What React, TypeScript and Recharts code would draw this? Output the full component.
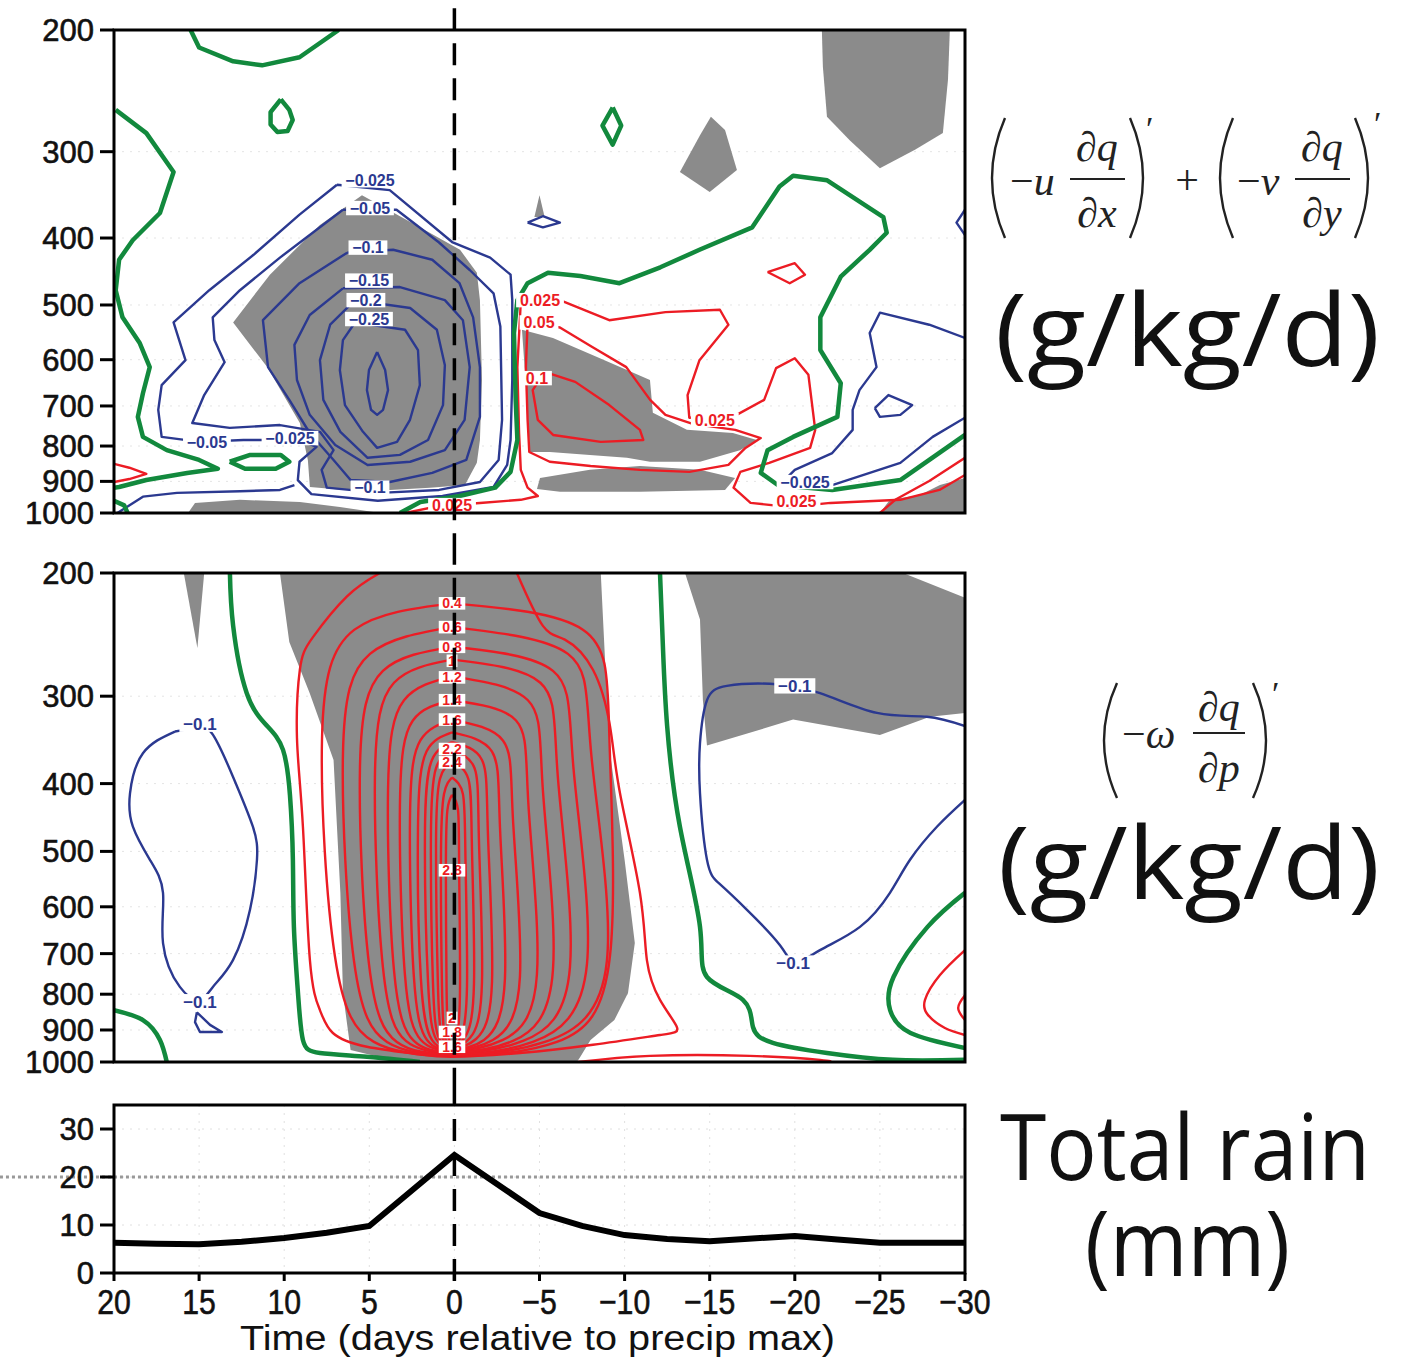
import React from 'react';
import {
  ComposedChart,
  Scatter,
  Line,
  XAxis,
  YAxis,
  CartesianGrid,
  ReferenceArea,
  ReferenceLine,
} from 'recharts';

// contour colours
const BLUE = '#2b3990';
const RED = '#ec1c24';
const GREEN = '#12893d';
const GRAY = '#8b8b8b';
const FONT = '"Liberation Sans", Arial, Helvetica, sans-serif';

type Pt = [number, number]; // [day, hPa]

const PRESSURE_TICKS = [200, 300, 400, 500, 600, 700, 800, 900, 1000];
const DAY_TICKS = [20, 15, 10, 5, 0, -5, -10, -15, -20, -25, -30];
const RAIN_TICKS = [0, 10, 20, 30];

// ---------- horizontal advection panel ----------
const h_grayCenter: Pt[] = [[5.43,347],[2.03,386],[-0.33,416],[-1.32,449],[-1.5,492],[-1.62,642],[-1.5,784],[-1.32,846],[-0.62,911],[1.44,919],[3.79,926],[6.43,926],[8.49,917],[8.61,838],[9.08,741],[11.0,615],[13.0,530],[10.84,452],[7.9,383]];
const h_grayBottomLeft: Pt[] = [[15.65,1000],[15.24,967],[12.6,957],[9.08,964],[6.73,980],[4.38,1000]];
const h_grayMidUpper: Pt[] = [[-3.97,543],[-5.79,558],[-8.55,597],[-11.49,642],[-11.66,716],[-13.66,758],[-16.36,766],[-17.77,784],[-16.78,811],[-14.43,843],[-11.49,843],[-10.14,832],[-7.96,824],[-5.61,816],[-4.44,816],[-4.26,686]];
const h_grayMidLower: Pt[] = [[-5.03,890],[-7.96,866],[-10.9,855],[-14.43,866],[-16.49,890],[-15.9,926],[-10.9,932],[-6.2,932],[-4.85,923]];
const h_grayTopRight: Pt[] = [[-21.59,200],[-29.11,200],[-29.0,236],[-28.7,282],[-27.06,298],[-25.0,317],[-23.24,289],[-21.89,267],[-21.65,226]];
const h_grayTriangle: Pt[] = [[-15.07,267],[-15.9,279],[-16.6,319],[-15.0,343],[-13.25,321],[-14.43,284]];
const h_graySpike: Pt[] = [[-5.0,347],[-5.3,373],[-4.7,373]];
const h_grayBottomRight: Pt[] = [[-25.0,1000],[-25.59,957],[-27.35,942],[-28.53,911],[-30,890],[-30,1000]];

const h_greenTopArc: Pt[] = [[15.5,200],[15.0,212],[13.0,222],[11.3,225],[9.1,219],[6.8,200]];
const h_greenLoop: Pt[] = [[10.2,252],[9.7,261],[9.5,270],[9.8,280],[10.4,281],[10.8,274],[10.8,263],[10.2,252]];
const h_greenLeft: Pt[] = [[19.9,261],[18.1,282],[16.5,321],[17.3,368],[18.9,403],[19.7,430],[19.9,476],[19.5,521],[18.5,567],[17.9,615],[18.3,671],[18.6,726],[18.3,776],[16.9,811],[15.0,838],[13.9,863],[15.7,875],[18.1,896],[19.7,917],[20,919]];
const h_greenEllipse: Pt[] = [[13.2,843],[12.0,824],[10.2,824],[9.7,843],[10.5,863],[12.3,863],[13.2,843]];
const h_greenCorner: Pt[] = [[20,960],[19.4,975],[19.2,1000]];
const h_greenRight: Pt[] = [[3.2,1000],[2.0,964],[-0.3,945],[-2.4,919],[-3.3,872],[-3.7,784],[-3.6,686],[-3.5,549],[-3.7,492],[-4.3,465],[-5.5,449],[-7.4,454],[-9.7,465],[-12.1,441],[-14.4,416],[-17.5,386],[-19.1,337],[-19.9,325],[-21.9,330],[-25.2,373],[-25.4,393],[-24.4,416],[-22.7,455],[-21.5,521],[-21.5,581],[-22.7,649],[-22.5,726],[-19.9,776],[-18.4,811],[-18.0,875],[-19.0,911],[-22.2,926],[-26.2,896],[-30,771]];
const h_greenDiamond: Pt[] = [[-9.3,259],[-9.8,275],[-9.3,293],[-8.7,275],[-9.3,259]];

const h_redLeftTip: Pt[] = [[20,849],[19.1,860],[18.1,878],[19.1,893],[20,902]];
const h_redOuter: Pt[] = [[2.9,1000],[0.9,977],[-1.5,967],[-3.9,957],[-4.9,945],[-4.3,919],[-3.9,866],[-3.8,766],[-3.7,615],[-3.9,495],[-6.2,492],[-9.1,526],[-12.4,512],[-15.6,508],[-16.1,534],[-14.4,601],[-13.7,675],[-13.8,728],[-16.5,723],[-18.2,686],[-18.9,617],[-20.0,597],[-20.8,631],[-21.2,758],[-20.9,805],[-18.5,846],[-16.8,872],[-16.4,919],[-17.4,967],[-19.7,980],[-22.1,967],[-26.2,957],[-28.5,926],[-30,881]];
const h_redMid: Pt[] = [[-4.3,530],[-6.2,539],[-8.1,575],[-10.1,615],[-11.5,686],[-12.4,721],[-14.0,743],[-16.5,758],[-18.0,779],[-17.1,805],[-16.1,852],[-13.8,872],[-10.9,866],[-8.0,855],[-5.6,843],[-4.4,816],[-4.3,733],[-4.2,615],[-4.3,530]];
const h_redInner: Pt[] = [[-5.3,625],[-7.1,646],[-9.1,698],[-10.9,758],[-11.1,784],[-8.6,789],[-5.8,771],[-4.9,733],[-4.6,664],[-5.3,625]];
const h_redSmall: Pt[] = [[-18.4,448],[-20.0,435],[-20.6,452],[-19.7,465],[-18.4,448]];
const h_redBottomRight: Pt[] = [[-25.0,1000],[-25.9,957],[-27.9,899],[-30,832]];

const h_blueA: Pt[] = [[6.9,335],[3.8,341],[0.1,406],[-2.1,427],[-3.3,452],[-3.4,492],[-3.4,642],[-3.3,784],[-3.1,852],[-2.3,917],[0.7,945],[4.5,960],[8.4,939],[9.2,896],[9.1,843],[8.1,802],[9.1,784],[12.4,784],[14.95,789],[17.2,776],[17.4,709],[17.2,653],[15.8,601],[16.5,530],[14.4,476],[11.8,423],[9.1,370],[6.9,335]];
const h_blueB: Pt[] = [[6.55,364],[10.25,427],[12.6,476],[14.2,521],[14.1,562],[13.5,605],[14.7,675],[15.4,741],[13.2,753],[10.25,746],[7.9,763],[7.1,811],[7.8,866],[7.5,919],[4.4,935],[0.9,926],[-1.5,902],[-2.6,838],[-2.8,733],[-2.7,537],[-2.3,481],[-0.9,445],[0.9,406],[3.4,364],[6.55,364]];
const h_blueC3: Pt[] = [[6.3,420],[9.1,465],[11.25,526],[10.95,615],[9.7,686],[8.5,766],[7.1,838],[6.1,896],[3.8,902],[1.3,875],[-0.7,838],[-1.5,726],[-1.5,615],[-1.1,521],[-0.3,465],[1.3,430],[3.6,416],[6.3,420]];
const h_blueC4: Pt[] = [[6.55,473],[8.5,517],[9.4,571],[9.25,642],[8.5,721],[7.0,797],[5.1,852],[2.6,843],[0.56,811],[-0.6,733],[-0.9,615],[-0.5,526],[0.56,492],[3.2,471],[6.55,473]];
const h_blueC5: Pt[] = [[5.84,492],[7.3,534],[7.9,601],[7.7,686],[6.7,763],[5.1,832],[3.2,824],[1.55,784],[0.67,698],[0.56,611],[1.03,543],[2.6,505],[5.84,492]];
const h_blueC6: Pt[] = [[5.84,530],[6.55,562],[6.73,621],[6.43,698],[5.37,763],[4.54,805],[3.37,789],[2.61,733],[2.03,653],[2.14,581],[2.9,543],[5.84,530]];
const h_blueC7: Pt[] = [[4.54,585],[4.07,621],[3.9,664],[4.19,709],[4.54,721],[4.9,709],[5.14,664],[5.02,621],[4.54,585]];
const h_blueBottom: Pt[] = [[19.8,1000],[18.3,947],[16.3,935],[12.6,930],[10.25,926],[9.4,911]];
const h_blueSmall: Pt[] = [[-4.3,380],[-5.2,372],[-6.2,380],[-5.2,386],[-4.3,380]];
const h_blueEdge: Pt[] = [[-30,364],[-29.5,380],[-30,396]];
const h_blueRight: Pt[] = [[-30,558],[-27.9,534],[-25.0,513],[-24.4,549],[-24.8,615],[-23.8,664],[-23.4,709],[-23.4,758],[-22.2,819],[-20.0,866],[-19.4,896],[-22.2,911],[-26.2,846],[-28.1,776],[-30,728]];
const h_blueLoop: Pt[] = [[-24.7,705],[-25.5,675],[-26.9,698],[-26.2,721],[-25.0,726],[-24.7,705]];

const h_blueLabels = [
  { d: 4.96, p: 330, t: '\u22120.025' },
  { d: 4.96, p: 362, t: '\u22120.05' },
  { d: 5.08, p: 413, t: '\u22120.1' },
  { d: 5.02, p: 461, t: '\u22120.15' },
  { d: 5.2, p: 492, t: '\u22120.2' },
  { d: 5.02, p: 524, t: '\u22120.25' },
  { d: 14.54, p: 789, t: '\u22120.05' },
  { d: 9.66, p: 779, t: '\u22120.025' },
  { d: 4.96, p: 919, t: '\u22120.1' },
  { d: -20.6, p: 902, t: '\u22120.025' },
];
const h_redLabels = [
  { d: -5.03, p: 492, t: '0.025' },
  { d: -4.97, p: 530, t: '0.05' },
  { d: -4.85, p: 638, t: '0.1' },
  { d: -15.3, p: 733, t: '0.025' },
  { d: -20.1, p: 960, t: '0.025' },
  { d: 0.14, p: 974, t: '0.025' },
];

// ---------- vertical advection panel ----------
const v_graySpike: Pt[] = [[15.9,200],[14.7,200],[15.1,256]];
const v_grayCore: Pt[] = [[10.25,200],[-8.6,200],[-8.85,266],[-9.2,370],[-10.0,514],[-10.6,676],[-10.2,797],[-9.4,871],[-8.0,930],[-7.4,983],[-7.2,1000],[3.2,1000],[6.1,961],[6.55,797],[6.7,573],[6.9,461],[7.1,370],[8.5,297],[9.7,251]];
const v_grayTopRight: Pt[] = [[-13.55,200],[-26.36,200],[-30,217],[-30,317],[-27.94,321],[-25.0,341],[-19.9,324],[-14.84,353],[-14.6,304],[-14.43,233]];

const v_greenLeft: Pt[] = [[13.19,200],[13.0,238],[12.2,297],[11.0,331],[10.07,358],[9.66,416],[9.49,514],[9.43,641],[9.19,797],[8.9,930],[7.9,971],[5.14,983],[2.03,1000]];
const v_greenCorner: Pt[] = [[20,843],[18.3,871],[17.3,930],[16.9,1000]];
const v_greenRight: Pt[] = [[-12.08,200],[-12.26,258],[-12.5,331],[-13.25,461],[-14.43,641],[-14.84,756],[-16.95,815],[-17.54,891],[-18.71,939],[-21.89,971],[-25.76,993],[-30,993]];
const v_greenEdge: Pt[] = [[-30,573],[-27.8,641],[-25.8,756],[-25.6,843],[-26.8,909],[-30,955]];

const v_redEdge: Pt[] = [[-30,692],[-28.53,751],[-27.65,815],[-27.83,857],[-28.82,894],[-30,915]];
const v_redEdgeInner: Pt[] = [[-30,803],[-29.6,837],[-30,871]];
const v_redFloor: Pt[] = [[-7.26,1000],[-11.49,980],[-17.36,980],[-21.48,993],[-22.07,1000]];

const v_red02: Pt[] = [[4.38,200],[6.31,216],[8.31,247],[9.08,275],[9.25,344],[8.9,461],[8.49,715],[7.9,843],[7.14,909],[5.14,951],[2.2,974],[0.14,983],[-3.85,971],[-8.14,945],[-12.08,915],[-13.07,891],[-12.08,815],[-11.31,715],[-10.9,573],[-9.73,413],[-9.14,331],[-8.14,275],[-6.49,249],[-5.2,238],[-3.67,200]];
const v_red04: Pt[] = [[0.14,221],[5.87,241],[7.78,346],[7.02,706],[4.73,936],[0.14,980],[-6.02,936],[-9.14,706],[-9.11,346],[-7.55,241],[0.14,221]];
const v_red06: Pt[] = [[0.14,239],[4.96,261],[6.55,365],[5.9,717],[3.96,936],[0.14,977],[-5.32,936],[-8.96,717],[-8.05,365],[-6.67,261],[0.14,239]];
const v_red08: Pt[] = [[0.14,255],[4.2,276],[5.55,381],[5.02,724],[3.38,936],[0.14,974],[-4.61,936],[-7.79,724],[-7.0,381],[-5.79,276],[0.14,255]];
const v_red10: Pt[] = [[0.14,266],[3.55,287],[4.67,392],[4.2,732],[2.85,933],[0.14,971],[-4.03,933],[-6.79,732],[-6.08,392],[-5.05,287],[0.14,266]];
const v_red12: Pt[] = [[0.14,281],[2.96,304],[3.9,409],[3.55,739],[2.38,933],[0.14,968],[-3.44,933],[-5.79,739],[-5.2,409],[-4.32,304],[0.14,281]];
const v_red14: Pt[] = [[0.14,304],[2.44,325],[3.2,429],[2.91,749],[1.97,930],[0.14,964],[-2.85,930],[-4.85,749],[-4.35,429],[-3.62,325],[0.14,304]];
const v_red16: Pt[] = [[0.14,324],[2.0,347],[2.61,449],[2.38,756],[1.61,930],[0.14,961],[-2.26,930],[-3.85,756],[-3.44,449],[-2.85,347],[0.14,324]];
const v_red18: Pt[] = [[0.14,338],[1.64,360],[2.14,463],[1.97,760],[1.32,930],[0.14,958],[-1.74,930],[-2.97,760],[-2.68,463],[-2.21,360],[0.14,338]];
const v_red20: Pt[] = [[0.14,349],[1.32,370],[1.73,472],[1.55,768],[1.08,927],[0.14,955],[-1.27,927],[-2.21,768],[-1.97,472],[-1.62,370],[0.14,349]];
const v_red22: Pt[] = [[0.14,358],[1.08,380],[1.38,480],[1.26,770],[0.91,924],[0.14,951],[-0.91,924],[-1.62,770],[-1.44,480],[-1.18,380],[0.14,358]];
const v_red24: Pt[] = [[0.14,372],[0.85,394],[1.08,493],[0.97,774],[0.73,921],[0.14,948],[-0.62,921],[-1.15,774],[-1.03,493],[-0.82,394],[0.14,372]];
const v_red26: Pt[] = [[0.14,392],[0.61,414],[0.79,511],[0.73,779],[0.56,921],[0.14,945],[-0.38,921],[-0.74,779],[-0.65,511],[-0.5,414],[0.14,392]];
const v_red28: Pt[] = [[0.14,415],[0.41,436],[0.5,530],[0.46,784],[0.36,918],[0.14,939],[-0.14,918],[-0.33,784],[-0.28,530],[-0.21,436],[0.14,415]];

const v_blueLeft: Pt[] = [[16.42,337],[18.3,362],[19.06,413],[18.89,461],[17.89,514],[17.12,573],[17.12,676],[16.13,781],[14.95,815],[14.19,781],[13.01,715],[12.01,606],[11.6,514],[11.84,461],[13.01,391],[14.25,339],[15.24,333],[16.42,337]];
const v_blueSmall: Pt[] = [[15.13,849],[14.36,885],[13.66,906],[14.95,906],[15.24,877],[15.13,849]];
const v_blueRight: Pt[] = [[-30,422],[-28.35,461],[-26.77,514],[-25.59,573],[-23.83,641],[-21.48,692],[-20.01,722],[-19.13,681],[-17.19,606],[-15.6,557],[-14.84,514],[-14.43,413],[-14.43,350],[-14.84,304],[-16.01,290],[-18.54,288],[-21.48,297],[-24.83,317],[-27.76,321],[-30,331]];

const v_redLabels = [
  { d: 0.14, p: 221, t: '0.4' },
  { d: 0.14, p: 239, t: '0.6' },
  { d: 0.14, p: 255, t: '0.8' },
  { d: 0.14, p: 267, t: '1' },
  { d: 0.14, p: 282, t: '1.2' },
  { d: 0.14, p: 304, t: '1.4' },
  { d: 0.14, p: 324, t: '1.6' },
  { d: 0.14, p: 357, t: '2.2' },
  { d: 0.14, p: 373, t: '2.4' },
  { d: 0.14, p: 532, t: '2.8' },
  { d: 0.14, p: 865, t: '2' },
  { d: 0.14, p: 906, t: '1.8' },
  { d: 0.14, p: 951, t: '1.6' },
];
const v_blueLabels = [
  { d: 14.95, p: 329, t: '\u22120.1' },
  { d: 14.95, p: 820, t: '\u22120.1' },
  { d: -20.0, p: 290, t: '\u22120.1' },
  { d: -19.9, p: 722, t: '\u22120.1' },
];

// ---------- total rain ----------
const rainDays = [20, 17.5, 15, 12.5, 10, 7.5, 5, 0, -5, -7.5, -10, -12.5, -15, -17.5, -20, -22.5, -25, -27.5, -30];
const rainMm = [6.3, 6.1, 6.0, 6.5, 7.3, 8.4, 9.8, 24.6, 12.5, 9.8, 7.9, 7.1, 6.6, 7.2, 7.7, 7.0, 6.3, 6.3, 6.3];
const RAIN_REF = 20;

const toPts = (a: Pt[]) => a.map(([d, p]) => ({ d, p }));
const rainData = rainDays.map((d, i) => ({ d, v: rainMm[i] }));

const CHART_W = 1000;
const CHART_MARGIN_R = 35;

const NoDot = () => <g />;

const fillArea = (key: string, data: Pt[]) => (
  <Scatter
    key={key}
    data={toPts(data)}
    shape={NoDot}
    line={{ stroke: 'none', fill: GRAY }}
    lineJointType="linearClosed"
    isAnimationActive={false}
    legendType="none"
  />
);

const isoline = (key: string, data: Pt[], color: string, width: number, curve: any = 'linear') => (
  <Scatter
    key={key}
    data={toPts(data)}
    shape={NoDot}
    line={{ stroke: color, strokeWidth: width, fill: 'none', strokeLinejoin: 'round' }}
    lineJointType={curve}
    isAnimationActive={false}
    legendType="none"
  />
);

const labelShape = (color: string, size: number) => (props: any) => {
  const { cx, cy, payload } = props;
  const t: string = payload.t;
  const w = t.length * size * 0.56 + 3;
  return (
    <g>
      <rect x={cx - w / 2} y={cy - size * 0.45} width={w} height={size * 0.9} fill="#fff" />
      <text
        x={cx}
        y={cy + size * 0.36}
        textAnchor="middle"
        fontSize={size}
        fontWeight="bold"
        fontFamily={FONT}
        fill={color}
      >
        {t}
      </text>
    </g>
  );
};

const YTick = (props: any) => {
  const { x, y, payload } = props;
  return (
    <text
      x={x}
      y={y + 11}
      textAnchor="end"
      fontSize={31}
      fontFamily={FONT}
      fill="#111"
      stroke="#111"
      strokeWidth={0.6}
    >
      {payload.value}
    </text>
  );
};

const DayTick = (props: any) => {
  const { x, y, payload } = props;
  const v = payload.value as number;
  const s = v < 0 ? `\u2212${-v}` : String(v);
  return (
    <g transform={`translate(${x},${y + 29}) scale(0.84,1)`}>
      <text textAnchor="middle" fontSize={36} fontFamily={FONT} fill="#111" stroke="#111" strokeWidth={0.6}>
        {s}
      </text>
    </g>
  );
};

const pressureAxes = [
  <CartesianGrid key="grid" vertical={false} stroke="#e4e4e4" strokeDasharray="2 6" />,
  <XAxis key="x" type="number" dataKey="d" domain={[-30, 20]} reversed hide allowDataOverflow />,
  <YAxis
    key="y"
    type="number"
    dataKey="p"
    scale="log"
    domain={[200, 1000]}
    reversed
    allowDataOverflow
    ticks={PRESSURE_TICKS}
    interval={0}
    width={114}
    tickSize={14}
    tickMargin={6}
    axisLine={false}
    tickLine={{ stroke: '#000', strokeWidth: 3 }}
    tick={YTick}
  />,
];

const frame = (key: string, y1: number, y2: number) => (
  <ReferenceArea
    key={key}
    x1={20}
    x2={-30}
    y1={y1}
    y2={y2}
    fill="none"
    stroke="#000"
    strokeWidth={3}
    ifOverflow="visible"
    zIndex={1400}
  />
);

const zeroLine = (key: string, yFrom: number, yTo: number) => (
  <ReferenceLine
    key={key}
    segment={[{ x: 0, y: yFrom }, { x: 0, y: yTo }]}
    stroke="#000"
    strokeWidth={3.5}
    strokeDasharray="22 13"
    ifOverflow="visible"
    zIndex={1500}
  />
);

const HorizontalPanel = () => (
  <ComposedChart width={CHART_W} height={543} margin={{ top: 30, right: CHART_MARGIN_R, bottom: 30, left: 0 }}>
    {pressureAxes}
    {fillArea('g1', h_grayCenter)}
    {fillArea('g2', h_grayBottomLeft)}
    {fillArea('g3', h_grayMidUpper)}
    {fillArea('g4', h_grayMidLower)}
    {fillArea('g5', h_grayTopRight)}
    {fillArea('g6', h_grayTriangle)}
    {fillArea('g7', h_graySpike)}
    {fillArea('g8', h_grayBottomRight)}

    {isoline('b1', h_blueA, BLUE, 2.4)}
    {isoline('b2', h_blueB, BLUE, 2.4)}
    {isoline('b3', h_blueC3, BLUE, 2.4)}
    {isoline('b4', h_blueC4, BLUE, 2.4)}
    {isoline('b5', h_blueC5, BLUE, 2.4)}
    {isoline('b6', h_blueC6, BLUE, 2.4)}
    {isoline('b7', h_blueC7, BLUE, 2.4)}
    {isoline('b8', h_blueBottom, BLUE, 2.4)}
    {isoline('b9', h_blueSmall, BLUE, 2.4)}
    {isoline('b10', h_blueEdge, BLUE, 2.4)}
    {isoline('b11', h_blueRight, BLUE, 2.4)}
    {isoline('b12', h_blueLoop, BLUE, 2.4)}

    {isoline('r1', h_redLeftTip, RED, 2.4)}
    {isoline('r2', h_redOuter, RED, 2.4)}
    {isoline('r3', h_redMid, RED, 2.4)}
    {isoline('r4', h_redInner, RED, 2.4)}
    {isoline('r5', h_redSmall, RED, 2.4)}
    {isoline('r6', h_redBottomRight, RED, 2.4)}

    {isoline('n1', h_greenTopArc, GREEN, 4.5)}
    {isoline('n2', h_greenLoop, GREEN, 4.5)}
    {isoline('n3', h_greenLeft, GREEN, 4.5)}
    {isoline('n4', h_greenEllipse, GREEN, 4.5)}
    {isoline('n5', h_greenCorner, GREEN, 4.5)}
    {isoline('n6', h_greenRight, GREEN, 4.5)}
    {isoline('n7', h_greenDiamond, GREEN, 4.5)}

    <Scatter data={h_blueLabels} shape={labelShape(BLUE, 16)} isAnimationActive={false} legendType="none" />
    <Scatter data={h_redLabels} shape={labelShape(RED, 16)} isAnimationActive={false} legendType="none" />
    {frame('frame', 200, 1000)}
    {zeroLine('zero', 186, 1105)}
  </ComposedChart>
);

const VerticalPanel = () => (
  <ComposedChart width={CHART_W} height={541} margin={{ top: 30, right: CHART_MARGIN_R, bottom: 22, left: 0 }}>
    {pressureAxes}
    {fillArea('g1', v_graySpike)}
    {fillArea('g2', v_grayCore)}
    {fillArea('g3', v_grayTopRight)}

    {isoline('n1', v_greenLeft, GREEN, 4.5, 'natural')}
    {isoline('n2', v_greenCorner, GREEN, 4.5, 'natural')}
    {isoline('n3', v_greenRight, GREEN, 4.5, 'natural')}
    {isoline('n4', v_greenEdge, GREEN, 4.5, 'natural')}

    {isoline('r0', v_red02, RED, 2.4, 'natural')}
    {isoline('r1', v_red04, RED, 2.4, 'natural')}
    {isoline('r2', v_red06, RED, 2.4, 'natural')}
    {isoline('r3', v_red08, RED, 2.4, 'natural')}
    {isoline('r4', v_red10, RED, 2.4, 'natural')}
    {isoline('r5', v_red12, RED, 2.4, 'natural')}
    {isoline('r6', v_red14, RED, 2.4, 'natural')}
    {isoline('r7', v_red16, RED, 2.4, 'natural')}
    {isoline('r8', v_red18, RED, 2.4, 'natural')}
    {isoline('r9', v_red20, RED, 2.4, 'natural')}
    {isoline('r10', v_red22, RED, 2.4, 'natural')}
    {isoline('r11', v_red24, RED, 2.4, 'natural')}
    {isoline('r12', v_red26, RED, 2.4, 'natural')}
    {isoline('r13', v_red28, RED, 2.4, 'natural')}
    {isoline('r14', v_redEdge, RED, 2.4, 'natural')}
    {isoline('r15', v_redEdgeInner, RED, 2.4, 'natural')}
    {isoline('r16', v_redFloor, RED, 2.4, 'natural')}

    {isoline('b1', v_blueLeft, BLUE, 2.4, 'natural')}
    {isoline('b2', v_blueSmall, BLUE, 2.4)}
    {isoline('b3', v_blueRight, BLUE, 2.4, 'natural')}

    <Scatter data={v_redLabels} shape={labelShape(RED, 14)} isAnimationActive={false} legendType="none" />
    <Scatter data={v_blueLabels} shape={labelShape(BLUE, 17)} isAnimationActive={false} legendType="none" />
    {frame('frame', 200, 1000)}
    {zeroLine('zero', 181, 1075)}
  </ComposedChart>
);

const RainPanel = () => (
  <ComposedChart data={rainData} width={CHART_W} height={277} margin={{ top: 21, right: CHART_MARGIN_R, bottom: 0, left: 0 }}>
    <CartesianGrid stroke="#e0e0e0" strokeDasharray="2 6" />
    <XAxis
      type="number"
      dataKey="d"
      domain={[-30, 20]}
      reversed
      allowDataOverflow
      ticks={DAY_TICKS}
      interval={0}
      height={88}
      tickSize={8}
      tickMargin={4}
      axisLine={false}
      tickLine={{ stroke: '#000', strokeWidth: 3 }}
      tick={DayTick}
    />
    <YAxis
      type="number"
      domain={[0, 35]}
      allowDataOverflow
      ticks={RAIN_TICKS}
      interval={0}
      width={114}
      tickSize={14}
      tickMargin={6}
      axisLine={false}
      tickLine={{ stroke: '#000', strokeWidth: 3 }}
      tick={YTick}
    />
    <ReferenceLine
      segment={[{ x: 26.7, y: RAIN_REF }, { x: -30, y: RAIN_REF }]}
      stroke="#999"
      strokeWidth={3}
      strokeDasharray="3 3"
      ifOverflow="visible"
    />
    <Line
      type="linear"
      dataKey="v"
      stroke="#000"
      strokeWidth={6}
      dot={false}
      isAnimationActive={false}
      legendType="none"
    />
    {frame('frame', 0, 35)}
    {zeroLine('zero', 39.4, -3.5)}
  </ComposedChart>
);

const parenL = (x: number, y1: number, y2: number) => (
  <path d={`M${x},${y1} Q${x - 26},${(y1 + y2) / 2} ${x},${y2}`} stroke="#222" strokeWidth={2.4} fill="none" />
);
const parenR = (x: number, y1: number, y2: number) => (
  <path d={`M${x},${y1} Q${x + 26},${(y1 + y2) / 2} ${x},${y2}`} stroke="#222" strokeWidth={2.4} fill="none" />
);

const SERIF = '"Liberation Serif", "DejaVu Serif", serif';
const SANS = '"Open Sans", "Noto Sans", sans-serif';

const Annotations = () => (
  <svg width={1408} height={1361} style={{ position: 'absolute', left: 0, top: 0, pointerEvents: 'none' }}>
    <g fontFamily={SERIF} fontSize={42} fill="#222">
      {parenL(1005, 118, 238)}
      <text x={1010} y={195}>
        {'\u2212'}
        <tspan fontStyle="italic">u</tspan>
      </text>
      <text x={1097} y={161} textAnchor="middle" fontStyle="italic">{'\u2202q'}</text>
      <line x1={1070} x2={1125} y1={179} y2={179} stroke="#222" strokeWidth={2.2} />
      <text x={1097} y={227} textAnchor="middle" fontStyle="italic">{'\u2202x'}</text>
      {parenR(1130, 118, 238)}
      <text x={1146} y={140} fontSize={34}>{'\u2032'}</text>
      <text x={1187} y={194} textAnchor="middle">+</text>
      {parenL(1233, 118, 238)}
      <text x={1237} y={195}>
        {'\u2212'}
        <tspan fontStyle="italic">v</tspan>
      </text>
      <text x={1322} y={161} textAnchor="middle" fontStyle="italic">{'\u2202q'}</text>
      <line x1={1295} x2={1350} y1={179} y2={179} stroke="#222" strokeWidth={2.2} />
      <text x={1322} y={227} textAnchor="middle" fontStyle="italic">{'\u2202y'}</text>
      {parenR(1355, 118, 238)}
      <text x={1374} y={135} fontSize={34}>{'\u2032'}</text>

      {parenL(1117, 683, 798)}
      <text x={1122} y={748}>
        {'\u2212'}
        <tspan fontStyle="italic">{'\u03C9'}</tspan>
      </text>
      <text x={1219} y={721} textAnchor="middle" fontStyle="italic">{'\u2202q'}</text>
      <line x1={1193} x2={1245} y1={733} y2={733} stroke="#222" strokeWidth={2.2} />
      <text x={1219} y={782} textAnchor="middle" fontStyle="italic">{'\u2202p'}</text>
      {parenR(1253, 683, 798)}
      <text x={1272} y={705} fontSize={34}>{'\u2032'}</text>
    </g>

    <g fontFamily={SANS} fill="#111">
      <text x={995} y={366} fontSize={100} textLength={385} lengthAdjust="spacingAndGlyphs">(g/kg/d)</text>
      <text x={998} y={899} fontSize={100} textLength={382} lengthAdjust="spacingAndGlyphs">(g/kg/d)</text>
      <text x={1000} y={1180} fontSize={92} textLength={370} lengthAdjust="spacingAndGlyphs">Total rain</text>
      <text x={1085} y={1276} fontSize={92} textLength={205} lengthAdjust="spacingAndGlyphs">(mm)</text>
    </g>

    <text
      x={240}
      y={1350}
      fontFamily={FONT}
      fontSize={35}
      fill="#111"
      textLength={595}
      lengthAdjust="spacingAndGlyphs"
    >
      Time (days relative to precip max)
    </text>
  </svg>
);

export default function App() {
  return (
    <div style={{ position: 'absolute', left: 0, top: 0, width: 1408, height: 1361, background: '#fff' }}>
      <div style={{ position: 'absolute', left: 0, top: 0 }}>
        <HorizontalPanel />
      </div>
      <div style={{ position: 'absolute', left: 0, top: 543 }}>
        <VerticalPanel />
      </div>
      <div style={{ position: 'absolute', left: 0, top: 1084 }}>
        <RainPanel />
      </div>
      <Annotations />
    </div>
  );
}
